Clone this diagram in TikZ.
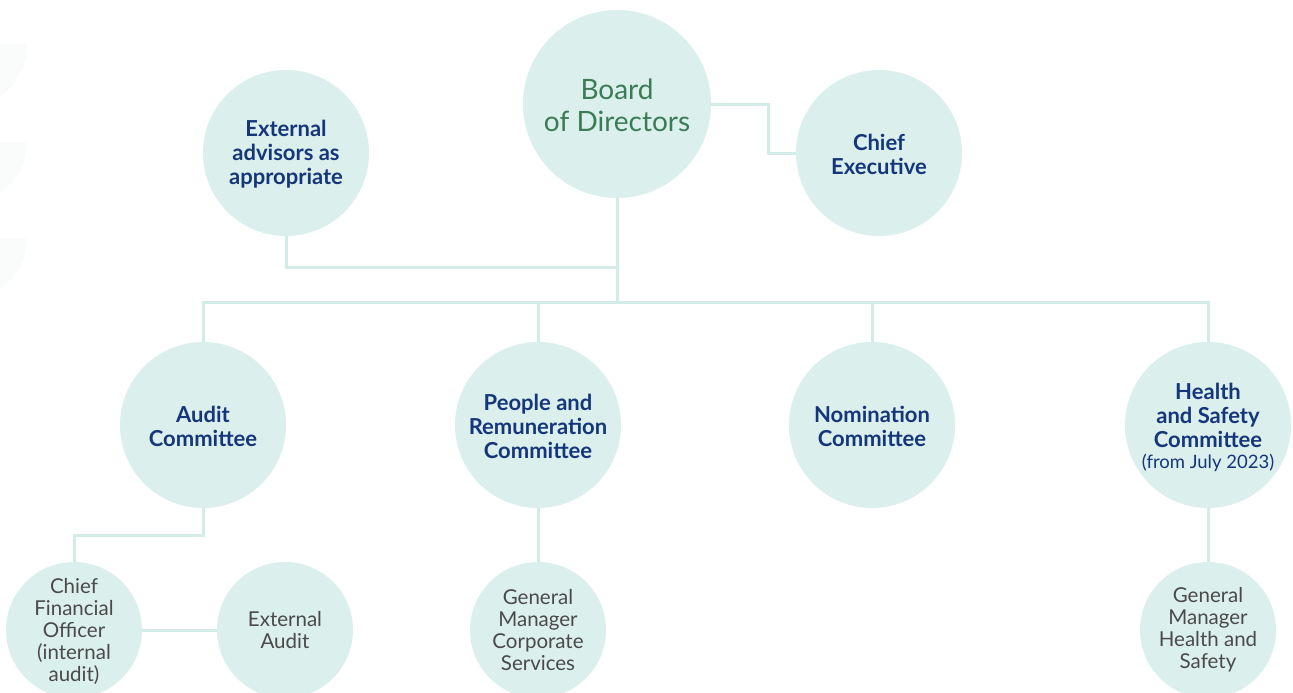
\documentclass[tikz,border=0pt]{standalone}
\usepackage{fontspec}
\setmainfont{Lato}
\definecolor{circfill}{HTML}{DBEFEC}
\definecolor{linecol}{HTML}{D4ECE8}
\definecolor{navy}{HTML}{16367B}
\definecolor{boardgreen}{HTML}{3B7C57}
\definecolor{greytext}{HTML}{4A4A4A}
\definecolor{faint}{HTML}{FAFCFC}
\tikzset{
  bigc/.style={circle, fill=circfill, minimum size=188pt, inner sep=0pt, outer sep=0pt},
  midc/.style={circle, fill=circfill, minimum size=166pt, inner sep=0pt, outer sep=0pt},
  smallc/.style={circle, fill=circfill, minimum size=136pt, inner sep=0pt, outer sep=0pt},
  boardtxt/.style={align=center, text=boardgreen, inner sep=0pt, font=\fontsize{28}{32}\selectfont},
  navytxt/.style={align=center, text=navy, inner sep=0pt, font=\fontsize{22}{24}\selectfont\bfseries},
  greytxt/.style={align=center, text=greytext, inner sep=0pt, font=\fontsize{20.5}{22}\selectfont},
  conn/.style={draw=linecol, line width=3pt}
}
\begin{document}
\begin{tikzpicture}[x=1pt,y=-1pt]
\useasboundingbox (0,0) rectangle (1293,693);
\clip (0,0) rectangle (1293,693);
\fill[white] (0,0) rectangle (1293,693);
% faint background shapes at the left edge
\foreach \t in {45,142,238}{
  \begin{scope}
    \clip (-120,\t) rectangle (120,\t+120);
    \fill[faint] (-35,\t) circle[radius=62pt];
  \end{scope}
}
% circles
\node[bigc] (board) at (617,104) {};
\node[midc] (ext) at (286,153) {};
\node[midc] (ce) at (879,153) {};
\node[midc] (aud) at (203,425) {};
\node[midc] (pr) at (538,425) {};
\node[midc] (nom) at (872,425) {};
\node[midc] (hs) at (1208,425) {};
\node[smallc] (cfo) at (74,630) {};
\node[smallc] (ea) at (285,630) {};
\node[smallc] (gmc) at (538,630) {};
\node[smallc] (gmh) at (1208,630) {};
% texts
\node[boardtxt] (board-t) at (617,105) {Board\\of Directors};
\node[navytxt] (ext-t) at (286,154) {External\\advisors as\\appropriate};
\node[navytxt] (ce-t) at (879,154) {Chief\\Executive};
\node[navytxt] (aud-t) at (203,426) {Audit\\Committee};
\node[navytxt] (pr-t) at (538,426) {People and\\Remuneration\\Committee};
\node[navytxt] (nom-t) at (872,426) {Nomination\\Committee};
\node[navytxt] (hs-t) at (1208,427) {Health\\and Safety\\Committee\\[-3pt]{\mdseries\fontsize{18.5}{20}\selectfont (from July 2023)}};
\node[greytxt] (cfo-t) at (74,631) {Chief\\Financial\\Officer\\(internal\\audit)};
\node[greytxt] (ea-t) at (285,630) {External\\Audit};
\node[greytxt] (gmc-t) at (538,630) {General\\Manager\\Corporate\\Services};
\node[greytxt] (gmh-t) at (1208,630) {General\\Manager\\Health and\\Safety};
% connectors
\coordinate (jA) at (617,267);
\coordinate (bus) at (617,302);
\draw[conn] (board.south) -- (bus);
\draw[conn] (ext.south) |- (jA);
\draw[conn] (board.east) -- ++(57,0) |- (ce.west);
\draw[conn] (aud.north) |- (bus) -| (hs.north);
\draw[conn] (pr.north) -- (pr.north |- bus);
\draw[conn] (nom.north) -- (nom.north |- bus);
\draw[conn] (aud.south) -- ++(0,27) -| (cfo.north);
\draw[conn] (cfo.east) -- (ea.west);
\draw[conn] (pr.south) -- (gmc.north);
\draw[conn] (hs.south) -- (gmh.north);
\end{tikzpicture}
\end{document}
